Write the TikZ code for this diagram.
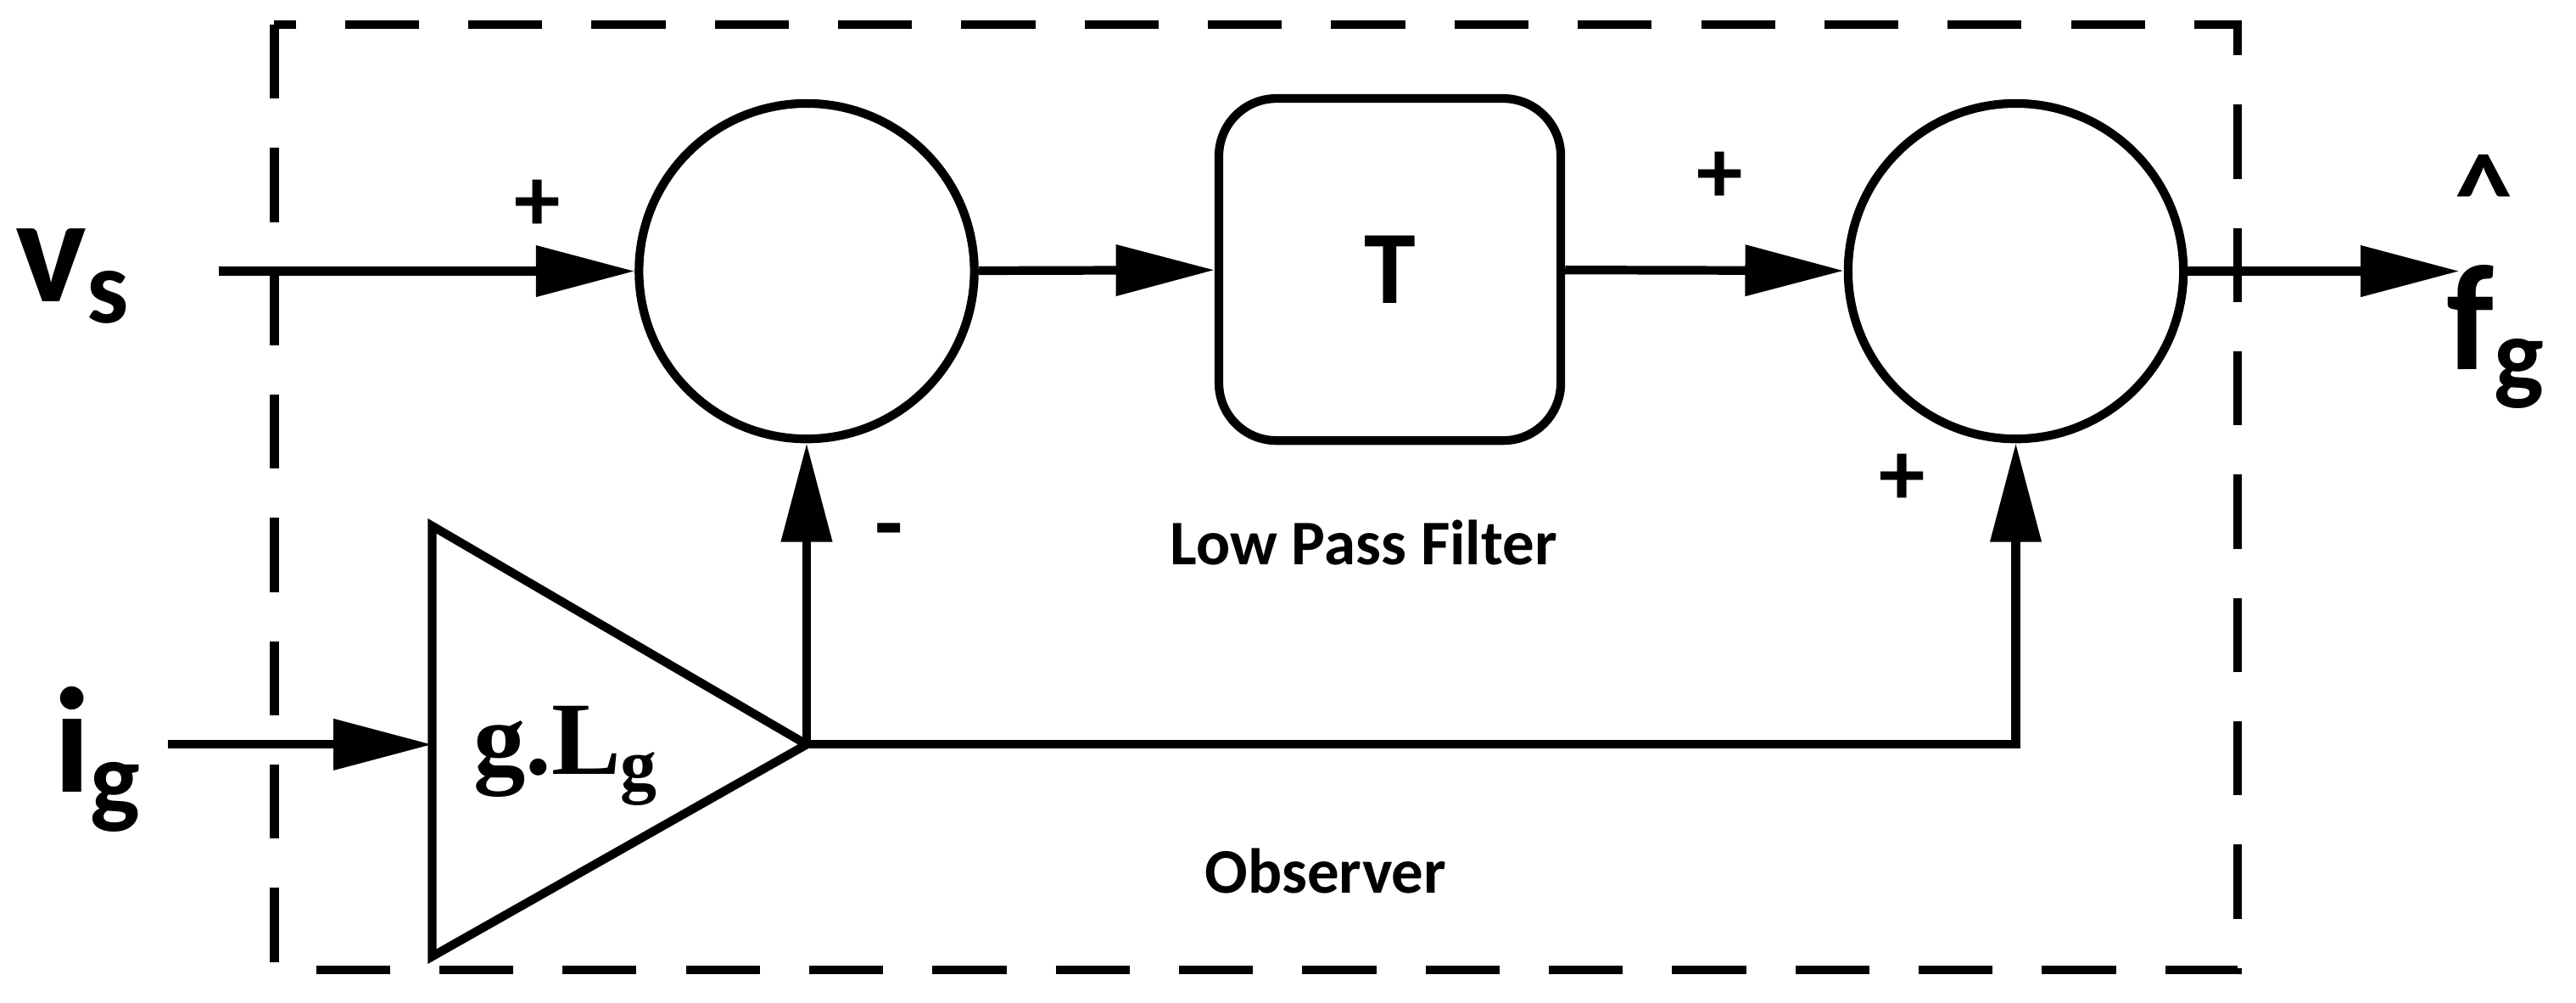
\documentclass[tikz,border=0pt]{standalone}
\usepackage{fontspec}
\setmainfont{Carlito}
\newfontfamily\gainfont{Liberation Serif}
\usetikzlibrary{arrows.meta}
\begin{document}
\begin{tikzpicture}[x=0.01cm,y=-0.01cm,line width=1.5pt,
  tip/.style={-{Triangle[length=0.6cm,width=0.3cm]}},
  summer/.style={draw,circle,minimum size=2.04cm,inner sep=0pt},
  lbl/.style={font=\fontsize{11}{13}\selectfont\bfseries},
  sgn/.style={font=\fontsize{16}{18}\selectfont\bfseries}]

% zone et cadre
\useasboundingbox (0,0) rectangle (1568,610);
\draw[dash pattern=on 0.45cm off 0.3cm] (167,15) rectangle (1362,590);

% blocs
\node[summer] (sumA) at (491,165) {};
\node[summer] (sumB) at (1227,165) {};
\node[draw,rounded corners=0.35cm,minimum width=2.08cm,minimum height=2.08cm,
  font=\fontsize{18}{20}\selectfont\bfseries] (lpf) at (846,164) {T};
\draw (263,320) -- (263,582) -- (491,453) -- cycle;
\coordinate (amptip) at (491,453);
\coordinate (ampin) at (263,453);
\node[font=\gainfont\fontsize{18}{20}\selectfont\bfseries] (gain) at (345,460) {g.L\textsubscript{g}};

% entrees et sortie
\node[font=\fontsize{26}{28}\selectfont\bfseries] (vs) at (45,168) {v\textsubscript{s}};
\node[font=\fontsize{26}{28}\selectfont\bfseries] (ig) at (60,462) {i\textsubscript{g}};
\node[font=\fontsize{26}{28}\selectfont\bfseries,inner sep=1pt] (fg) at (1520,205) {f\textsubscript{g}};
\node[font=\fontsize{20}{22}\selectfont\bfseries,inner sep=0pt] (hat) at (1512,118) {\^{}};
\coordinate (vsin) at (133,165);
\coordinate (igin) at (102,453);
\coordinate (fgout) at (1497,165);
\coordinate (corner) at (1227,453);

% liaisons
\draw[tip] (vsin) -- (sumA);
\draw[tip] (sumA) -- (lpf);
\draw[tip] (lpf) -- (sumB);
\draw[tip] (sumB) -- (fgout);
\draw[tip] (igin) -- (ampin);
\draw[tip] (amptip) -- (sumA);
\draw[tip] (amptip) -- (corner) -- (sumB);

% signes et textes
\node[sgn] (pA) at (327,125) {+};
\node[sgn] (mA) at (541,328) {-};
\node[sgn] (pB) at (1047,108) {+};
\node[sgn] (pC) at (1158,292) {+};
\node[lbl] (lpfname) at (830,330) {Low Pass Filter};
\node[lbl] (obs) at (807,530) {Observer};

\end{tikzpicture}
\end{document}
